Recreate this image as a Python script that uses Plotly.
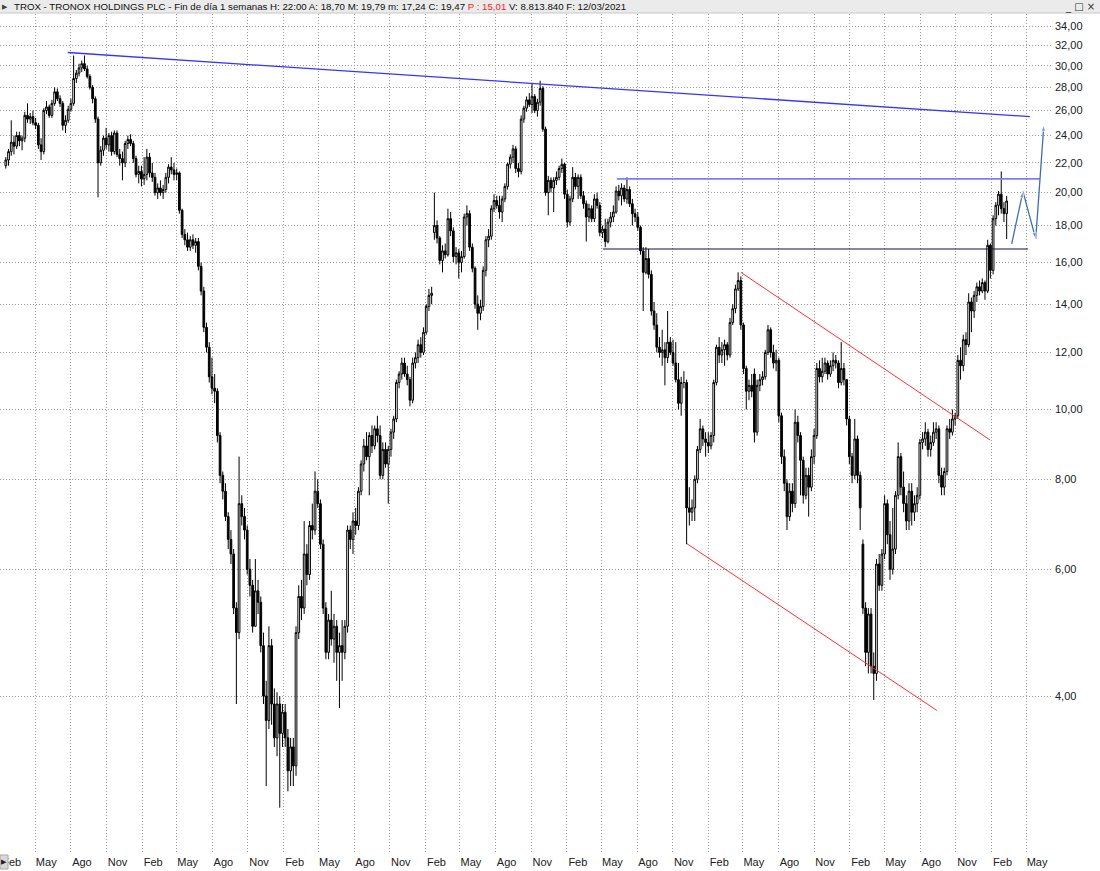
import pandas as pd
import plotly.graph_objects as go

# weekly candles, TROX, week ending 14/02/2014 ... 12/03/2021
start_week = "2014-02-14"

opens = [
    21.8, 22.2, 22.8, 23.5, 23.2, 24.0, 23.6, 23.8, 25.6, 25.3,
    25.5, 25.0, 24.8, 23.3, 22.8, 26.0, 26.3, 25.6, 26.6, 27.6,
    27.0, 26.6, 24.8, 25.2, 26.1, 26.6, 28.8, 29.3, 29.8, 30.2,
    29.7, 29.0, 28.0, 27.0, 25.3, 22.0, 22.9, 23.8, 23.3, 24.0,
    22.8, 24.2, 22.6, 22.3, 22.0, 23.4, 23.7, 23.4, 22.3, 21.2,
    21.4, 20.9, 21.2, 22.4, 21.3, 21.0, 20.0, 20.3, 20.0, 20.2,
    21.0, 21.7, 21.5, 21.2, 21.3, 18.9, 17.5, 17.2, 16.8, 17.2,
    16.9, 17.1, 15.8, 14.6, 13.0, 12.2, 11.1, 10.7, 10.6, 9.2,
    8.1, 7.7, 7.1, 6.6, 6.3, 5.3, 4.9, 7.4, 7.1, 6.8,
    6.0, 5.7, 5.0, 5.6, 5.4, 4.7, 4.0, 3.7, 4.7, 3.9,
    3.5, 3.9, 3.55, 3.8, 3.5, 3.15, 3.4, 3.2, 4.9, 5.5,
    5.3, 6.3, 5.9, 6.9, 6.8, 7.7, 7.4, 6.5, 5.3, 4.6,
    5.1, 4.8, 5.0, 4.6, 4.7, 4.6, 5.0, 6.8, 6.6, 7.0,
    6.9, 7.7, 8.4, 8.9, 8.6, 9.2, 8.9, 9.4, 9.2, 8.1,
    8.8, 8.4, 8.8, 9.3, 9.7, 10.9, 11.2, 11.6, 11.2, 11.0,
    10.3, 11.6, 11.8, 12.3, 12.0, 12.8, 13.9, 14.4, 17.6, 18.0,
    17.3, 16.1, 16.6, 16.4, 18.4, 17.7, 16.3, 16.5, 16.0, 16.3,
    18.5, 18.7, 16.8, 15.7, 14.0, 13.6, 13.9, 15.6, 17.2, 17.4,
    19.0, 19.5, 19.2, 18.8, 19.6, 20.4, 21.9, 22.4, 23.0, 21.6,
    21.4, 25.3, 26.2, 26.9, 26.5, 27.2, 26.0, 26.7, 27.9, 24.5,
    20.0, 20.8, 20.3, 20.8, 21.0, 21.6, 21.9, 19.9, 18.2, 19.6,
    21.0, 20.4, 21.0, 19.8, 19.3, 18.5, 19.0, 18.4, 19.6, 19.2,
    17.6, 17.8, 17.1, 18.2, 18.5, 18.8, 20.1, 19.8, 20.3, 19.6,
    20.2, 19.3, 18.7, 18.5, 17.9, 16.6, 15.5, 16.2, 15.4, 13.7,
    13.1, 12.2, 12.0, 12.1, 11.8, 12.4, 12.0, 11.6, 11.0, 10.2,
    10.9, 10.9, 7.3, 7.2, 7.3, 8.0, 8.8, 9.4, 9.1, 9.0,
    8.9, 9.2, 10.9, 12.2, 11.9, 12.1, 12.3, 11.9, 13.2, 13.8,
    14.7, 15.1, 13.1, 11.4, 10.6, 10.8, 11.2, 9.3, 10.8, 11.0,
    11.1, 12.0, 12.9, 12.0, 11.6, 11.7, 9.8, 8.6, 7.9, 7.1,
    7.7, 7.4, 9.6, 9.2, 8.5, 7.6, 8.1, 7.8, 8.6, 9.2,
    11.4, 11.1, 11.3, 11.6, 11.2, 11.5, 11.7, 11.6, 10.9, 11.4,
    11.0, 9.7, 8.6, 8.1, 9.1, 8.1, 6.5, 5.3, 4.6, 5.2,
    4.4, 4.3, 6.1, 5.7, 6.3, 7.4, 6.7, 6.0, 6.4, 7.6,
    8.6, 7.8, 7.4, 7.0, 7.7, 7.2, 7.4, 7.6, 9.0, 9.1,
    9.3, 8.8, 9.0, 9.3, 9.4, 8.1, 7.8, 8.2, 9.4, 9.3,
    9.7, 9.8, 11.7, 11.5, 12.5, 12.3, 14.1, 13.7, 14.4, 14.8,
    14.6, 15.0, 14.6, 16.9, 15.6, 18.4, 19.2, 19.9, 19.0, 18.70,
]
highs = [
    22.4, 23.0, 25.2, 24.0, 24.3, 24.3, 24.0, 25.9, 26.6, 25.8,
    26.0, 25.4, 25.0, 23.8, 26.2, 26.8, 26.5, 26.9, 28.0, 27.9,
    27.3, 26.8, 25.6, 26.4, 27.0, 31.0, 29.6, 30.2, 30.5, 31.0,
    30.0, 29.2, 28.2, 27.2, 25.5, 23.2, 24.0, 24.6, 24.2, 24.3,
    24.4, 24.4, 23.0, 22.8, 23.6, 24.0, 24.1, 23.6, 22.5, 21.8,
    21.8, 22.4, 23.0, 22.7, 22.0, 21.3, 20.6, 20.8, 20.5, 21.3,
    21.9, 22.4, 22.0, 21.6, 21.4, 19.0, 17.8, 17.6, 17.4, 17.5,
    17.3, 17.3, 16.0, 14.8, 13.2, 12.4, 11.8, 11.2, 10.7, 9.3,
    8.2, 7.9, 7.2, 6.8, 6.4, 5.4, 8.6, 7.6, 7.3, 6.9,
    6.2, 5.8, 6.2, 5.8, 5.5, 4.9, 4.2, 5.0, 4.8, 4.1,
    4.05, 4.0, 3.9, 3.9, 3.6, 3.5, 3.5, 5.0, 5.7, 5.8,
    7.0, 6.5, 7.0, 7.4, 8.2, 8.0, 7.5, 6.6, 5.4, 5.2,
    5.6, 5.2, 5.1, 4.9, 5.1, 5.1, 6.9, 6.9, 7.2, 7.3,
    7.8, 8.5, 9.1, 9.3, 9.3, 9.5, 9.5, 9.8, 9.5, 9.0,
    9.0, 8.9, 9.4, 9.8, 11.0, 11.3, 11.8, 11.8, 11.5, 11.1,
    11.8, 12.0, 12.5, 12.6, 13.0, 14.0, 14.7, 14.8, 20.0, 18.3,
    17.4, 16.9, 17.0, 19.0, 18.8, 17.9, 16.8, 16.7, 16.6, 18.7,
    19.2, 18.9, 17.0, 15.8, 14.4, 14.2, 15.8, 17.4, 17.8, 19.2,
    19.9, 19.8, 19.8, 19.8, 20.6, 22.0, 22.6, 23.3, 23.2, 22.0,
    25.6, 26.4, 27.2, 27.5, 28.4, 27.4, 27.0, 28.6, 28.1, 24.7,
    21.1, 21.0, 21.0, 21.4, 21.8, 22.3, 22.0, 20.2, 19.8, 21.7,
    21.3, 21.2, 21.2, 20.1, 19.5, 19.3, 19.2, 19.9, 20.0, 19.4,
    18.0, 18.4, 18.4, 18.8, 19.2, 20.4, 20.5, 20.6, 20.5, 21.0,
    20.4, 19.6, 19.0, 18.8, 18.0, 16.8, 16.8, 16.7, 15.6, 14.1,
    13.6, 12.6, 12.9, 12.4, 13.7, 12.6, 12.5, 12.4, 11.6, 11.1,
    11.3, 11.0, 7.8, 7.5, 8.1, 8.9, 9.7, 9.5, 9.3, 9.3,
    9.3, 11.0, 12.3, 12.6, 12.4, 12.5, 12.4, 13.4, 14.0, 14.9,
    15.5, 15.3, 13.2, 11.5, 11.0, 11.2, 11.4, 11.0, 11.2, 11.3,
    12.1, 13.1, 13.0, 12.3, 12.1, 11.8, 9.9, 8.8, 8.0, 7.9,
    7.9, 10.0, 9.8, 9.3, 8.6, 8.3, 8.3, 8.8, 9.4, 11.6,
    11.7, 11.8, 11.8, 11.7, 11.7, 12.0, 11.9, 11.7, 12.4, 11.6,
    11.0, 9.8, 8.7, 9.7, 9.2, 8.2, 6.6, 5.4, 5.3, 5.3,
    4.6, 6.2, 6.3, 6.4, 7.6, 7.5, 7.0, 7.3, 7.7, 9.0,
    8.7, 8.2, 7.6, 7.9, 7.9, 7.6, 7.8, 9.1, 9.3, 9.6,
    9.4, 9.2, 9.6, 9.6, 9.5, 8.3, 8.3, 9.5, 9.7, 10.0,
    9.9, 11.9, 12.2, 12.7, 12.8, 14.5, 14.3, 14.6, 15.0, 15.1,
    15.2, 15.1, 17.2, 17.0, 18.6, 19.4, 20.1, 21.4, 19.4, 19.79,
]
lows = [
    21.6, 21.8, 22.5, 22.6, 23.0, 23.2, 22.9, 23.5, 25.0, 24.9,
    24.8, 24.5, 23.0, 22.2, 22.6, 25.7, 25.4, 25.4, 26.4, 26.8,
    26.3, 24.4, 24.2, 25.0, 25.9, 26.4, 28.4, 29.0, 29.4, 29.5,
    28.8, 27.8, 26.6, 25.0, 19.7, 21.8, 22.5, 23.0, 22.8, 22.5,
    22.6, 22.4, 21.8, 20.8, 21.7, 23.0, 23.2, 22.0, 21.0, 20.6,
    20.4, 20.5, 20.8, 21.0, 20.7, 19.8, 19.6, 19.8, 19.6, 20.0,
    20.6, 21.2, 20.8, 20.8, 18.7, 17.3, 16.9, 16.6, 16.6, 16.7,
    16.5, 15.6, 14.4, 12.8, 12.0, 10.9, 10.5, 10.2, 9.0, 7.9,
    7.5, 7.0, 6.4, 6.1, 5.2, 3.9, 4.8, 6.9, 6.6, 5.9,
    5.5, 4.9, 5.0, 5.2, 4.6, 3.9, 3.0, 3.6, 3.65, 3.4,
    3.3, 2.8, 3.4, 3.4, 2.95, 3.0, 3.0, 3.1, 4.8, 5.1,
    5.2, 5.7, 5.8, 6.6, 6.7, 7.3, 6.4, 5.2, 4.5, 4.5,
    4.7, 4.45, 4.2, 3.85, 4.2, 4.5, 4.9, 6.4, 6.3, 6.7,
    6.8, 7.6, 8.2, 8.5, 7.6, 8.7, 8.8, 9.0, 8.0, 8.0,
    8.3, 7.4, 8.6, 9.1, 9.6, 10.7, 11.0, 11.1, 10.8, 10.1,
    10.2, 11.4, 11.6, 11.8, 11.9, 12.7, 13.7, 14.0, 17.2, 17.0,
    15.9, 15.5, 16.2, 16.3, 17.4, 16.0, 15.9, 15.2, 15.5, 16.2,
    18.0, 16.6, 15.5, 13.8, 12.9, 13.3, 13.7, 15.3, 16.8, 17.2,
    18.8, 19.0, 18.4, 18.2, 19.4, 20.2, 21.6, 22.0, 21.3, 21.0,
    21.2, 25.0, 25.9, 26.3, 25.8, 25.8, 25.5, 26.4, 24.3, 19.8,
    18.6, 20.0, 18.8, 20.5, 20.8, 21.3, 19.6, 17.9, 18.0, 19.4,
    20.2, 19.6, 19.6, 19.0, 17.1, 18.2, 18.2, 18.2, 19.0, 17.4,
    17.3, 16.8, 17.0, 17.9, 18.2, 18.7, 19.5, 19.2, 19.4, 19.3,
    19.1, 18.0, 18.2, 17.7, 16.4, 13.7, 15.4, 15.2, 13.5, 12.9,
    12.0, 11.8, 11.5, 10.8, 11.6, 11.9, 11.5, 10.9, 10.0, 9.8,
    10.7, 6.5, 6.9, 7.0, 7.0, 7.9, 8.7, 8.9, 8.6, 8.7,
    8.8, 9.0, 10.8, 11.6, 11.6, 11.5, 11.7, 11.8, 13.1, 13.6,
    14.6, 12.9, 11.2, 10.0, 10.3, 10.4, 9.0, 9.2, 10.6, 10.8,
    11.0, 11.9, 11.8, 11.4, 11.3, 9.6, 8.4, 7.7, 6.8, 7.0,
    7.2, 7.3, 9.0, 7.6, 7.4, 7.5, 7.1, 7.7, 8.4, 9.1,
    10.9, 10.9, 11.2, 11.0, 11.1, 11.3, 11.4, 10.7, 10.8, 10.8,
    9.5, 8.4, 7.9, 8.0, 7.9, 6.8, 5.2, 4.4, 4.3, 4.3,
    3.95, 4.2, 5.6, 5.6, 6.2, 6.5, 5.8, 5.9, 6.3, 7.5,
    7.6, 7.2, 6.8, 6.8, 6.9, 7.0, 7.2, 7.5, 8.8, 8.9,
    8.6, 8.6, 8.9, 9.1, 7.9, 7.6, 7.6, 8.1, 9.1, 9.2,
    9.5, 9.7, 11.0, 11.3, 11.9, 12.2, 12.8, 13.4, 14.1, 14.4,
    14.5, 14.2, 14.5, 15.2, 15.4, 18.0, 18.6, 18.7, 18.2, 17.24,
]
closes = [
    22.2, 22.8, 23.5, 23.2, 24.0, 23.6, 23.8, 25.6, 25.3, 25.5,
    25.0, 24.8, 23.3, 22.8, 26.0, 26.3, 25.6, 26.6, 27.6, 27.0,
    26.6, 24.8, 25.2, 26.1, 26.6, 28.8, 29.3, 29.8, 30.2, 29.7,
    29.0, 28.0, 27.0, 25.3, 22.0, 22.9, 23.8, 23.3, 24.0, 22.8,
    24.2, 22.6, 22.3, 22.0, 23.4, 23.7, 23.4, 22.3, 21.2, 21.4,
    20.9, 21.2, 22.4, 21.3, 21.0, 20.0, 20.3, 20.0, 20.2, 21.0,
    21.7, 21.5, 21.2, 21.3, 18.9, 17.5, 17.2, 16.8, 17.2, 16.9,
    17.1, 15.8, 14.6, 13.0, 12.2, 11.1, 10.7, 10.6, 9.2, 8.1,
    7.7, 7.1, 6.6, 6.3, 5.3, 4.9, 7.4, 7.1, 6.8, 6.0,
    5.7, 5.0, 5.6, 5.4, 4.7, 4.0, 3.7, 4.7, 3.9, 3.5,
    3.9, 3.55, 3.8, 3.5, 3.15, 3.4, 3.2, 4.9, 5.5, 5.3,
    6.3, 5.9, 6.9, 6.8, 7.7, 7.4, 6.5, 5.3, 4.6, 5.1,
    4.8, 5.0, 4.6, 4.7, 4.6, 5.0, 6.8, 6.6, 7.0, 6.9,
    7.7, 8.4, 8.9, 8.6, 9.2, 8.9, 9.4, 9.2, 8.1, 8.8,
    8.4, 8.8, 9.3, 9.7, 10.9, 11.2, 11.6, 11.2, 11.0, 10.3,
    11.6, 11.8, 12.3, 12.0, 12.8, 13.9, 14.4, 14.5, 18.0, 17.3,
    16.1, 16.6, 16.4, 18.4, 17.7, 16.3, 16.5, 16.0, 16.3, 18.5,
    18.7, 16.8, 15.7, 14.0, 13.6, 13.9, 15.6, 17.2, 17.4, 19.0,
    19.5, 19.2, 18.8, 19.6, 20.4, 21.9, 22.4, 23.0, 21.6, 21.4,
    25.3, 26.2, 26.9, 26.5, 27.2, 26.0, 26.7, 27.9, 24.5, 20.0,
    20.8, 20.3, 20.8, 21.0, 21.6, 21.9, 19.9, 18.2, 19.6, 21.0,
    20.4, 21.0, 19.8, 19.3, 18.5, 19.0, 18.4, 19.6, 19.2, 17.6,
    17.8, 17.1, 18.2, 18.5, 18.8, 20.1, 19.8, 20.3, 19.6, 20.2,
    19.3, 18.7, 18.5, 17.9, 16.6, 15.5, 16.2, 15.4, 13.7, 13.1,
    12.2, 12.0, 12.1, 11.8, 12.4, 12.0, 11.6, 11.0, 10.2, 10.9,
    10.9, 7.3, 7.2, 7.3, 8.0, 8.8, 9.4, 9.1, 9.0, 8.9,
    9.2, 10.9, 12.2, 11.9, 12.1, 12.3, 11.9, 13.2, 13.8, 14.7,
    15.1, 13.1, 11.4, 10.6, 10.8, 10.6, 9.3, 10.8, 11.0, 11.1,
    12.0, 12.9, 12.0, 11.6, 11.7, 9.8, 8.6, 7.9, 7.1, 7.7,
    7.4, 9.6, 9.2, 8.5, 7.6, 8.1, 7.8, 8.6, 9.2, 11.4,
    11.1, 11.3, 11.6, 11.2, 11.5, 11.7, 11.6, 10.9, 11.4, 11.0,
    9.7, 8.6, 8.1, 9.1, 8.1, 7.3, 5.3, 4.6, 5.2, 4.4,
    4.3, 6.1, 5.7, 6.3, 7.4, 6.7, 6.0, 6.4, 7.6, 8.6,
    7.8, 7.4, 7.0, 7.7, 7.2, 7.4, 7.6, 9.0, 9.1, 9.3,
    8.8, 9.0, 9.3, 9.4, 8.1, 7.8, 8.2, 9.4, 9.3, 9.7,
    9.8, 11.7, 11.5, 12.5, 12.3, 14.1, 13.7, 14.4, 14.8, 14.6,
    15.0, 14.6, 16.9, 15.6, 18.4, 19.2, 19.9, 19.0, 18.7, 19.47,
]

# drawn studies (date, price)
trend_top = (["2014-07-24", "2021-05-11"], [31.3, 25.5])
resist_hi = (["2018-06-10", "2021-06-06"], [20.9, 20.9])
support = (["2018-05-05", "2021-05-06"], [16.7, 16.7])
channel_up = (["2019-04-26", "2021-01-28"], [15.5, 9.07])
channel_dn = (["2018-12-08", "2020-09-13"], [6.51, 3.82])
projection = (["2021-03-25", "2021-04-23", "2021-05-26", "2021-06-16"], [16.98, 20.08, 17.25, 24.85])

price_ticks = [4, 6, 8, 10, 12, 14, 16, 18, 20, 22, 24, 26, 28, 30, 32, 34]
price_labels = ["4,00", "6,00", "8,00", "10,00", "12,00", "14,00", "16,00", "18,00",
                "20,00", "22,00", "24,00", "26,00", "28,00", "30,00", "32,00", "34,00"]
month_names = {2: "Feb", 5: "May", 8: "Ago", 11: "Nov"}

weeks = pd.date_range(start_week, periods=len(closes), freq="7D")
month_ticks = pd.date_range("2014-02-01", "2021-05-01", freq="3MS")

FONT = "Liberation Sans, Arial, sans-serif"
W, H = 1100, 871
PL, PR, PT, PB = 0, 1052, 14, 852   # plot area in pixels


def px(x):
    return (x - PL) / (PR - PL)


def py(y):
    return (PB - y) / (PB - PT)


fig = go.Figure()

fig.add_trace(go.Candlestick(
    x=weeks, open=opens, high=highs, low=lows, close=closes,
    increasing=dict(line=dict(color="black", width=1), fillcolor="white"),
    decreasing=dict(line=dict(color="black", width=1), fillcolor="black"),
    whiskerwidth=0, hoverinfo="skip", showlegend=False,
))

def seg(pts, color, width=1):
    fig.add_trace(go.Scatter(x=pts[0], y=pts[1], mode="lines",
                             line=dict(color=color, width=width),
                             hoverinfo="skip", showlegend=False))

seg(trend_top, "#3434ff", 1.3)
seg(resist_hi, "#7c7cf8", 1.6)
seg(support, "#10104a", 1.1)
seg(channel_up, "#ff3030", 1)
seg(channel_dn, "#ff3030", 1)

fig.add_trace(go.Scatter(
    x=projection[0], y=projection[1], mode="lines+markers",
    line=dict(color="#3d6fb0", width=1.3),
    marker=dict(symbol="arrow", size=[0, 7, 7, 7], angleref="previous", color="#3d6fb0"),
    hoverinfo="skip", showlegend=False,
))

fig.update_xaxes(
    type="date",
    range=["2014-01-30", "2021-07-07"],
    tickvals=list(month_ticks),
    ticktext=[month_names[d.month] for d in month_ticks],
    ticklabelshift=11, ticklabelstandoff=2,
    showgrid=True, gridcolor="#9a9a9a", griddash="1px,2px", gridwidth=1,
    tickfont=dict(family=FONT, size=11, color="#202020"),
    ticks="", showline=False, zeroline=False,
    rangeslider_visible=False, fixedrange=True,
)
fig.update_yaxes(
    type="log", side="right",
    range=[0.3856, 1.549],
    tickvals=price_ticks, ticktext=price_labels,
    showgrid=True, gridcolor="#9a9a9a", griddash="1px,2px", gridwidth=1,
    tickfont=dict(family=FONT, size=11, color="#202020"),
    ticks="", ticklabelstandoff=2,
    showline=False, zeroline=False, fixedrange=True,
)

shapes = [
    # header bar
    dict(type="rect", xref="paper", yref="paper", x0=px(0), x1=px(W), y0=py(13), y1=py(0),
         fillcolor="#ebebeb", line=dict(width=0), layer="above"),
    dict(type="line", xref="paper", yref="paper", x0=px(0), x1=px(W), y0=py(13), y1=py(13),
         line=dict(color="#c8c8c8", width=1), layer="above"),
    # little box at the bottom-left corner
    dict(type="rect", xref="paper", yref="paper", x0=px(0), x1=px(8), y0=py(869), y1=py(855),
         fillcolor="#d8d8d8", line=dict(color="#a8a8a8", width=1), layer="above"),
]

annotations = [
    dict(xref="paper", yref="paper", x=px(12), y=py(6.5), xanchor="left", yanchor="middle",
         showarrow=False, font=dict(family=FONT, size=9.7, color="#101010"),
         text="TROX - TRONOX HOLDINGS PLC - Fin de día 1 semanas H: 22:00 A: 18,70 "
              "M: 19,79 m: 17,24 C: 19,47 <span style='color:#ff2020'>P : 15,01</span> "
              "V: 8.813.840 F: 12/03/2021"),
    dict(xref="paper", yref="paper", x=px(5), y=py(6.5), xanchor="center", yanchor="middle",
         showarrow=False, font=dict(family=FONT, size=7, color="#404040"), text="▶"),
    dict(xref="paper", yref="paper", x=px(4), y=py(862), xanchor="center", yanchor="middle",
         showarrow=False, font=dict(family=FONT, size=7, color="#202020"), text="▶"),
    dict(xref="paper", yref="paper", x=px(1097), y=py(6.5), xanchor="right", yanchor="middle",
         showarrow=False, font=dict(family="DejaVu Sans", size=10, color="#303030"), text="_ □ ×"),
]

fig.update_layout(
    width=W, height=H,
    margin=dict(l=PL, r=W - PR, t=PT, b=H - PB, pad=0),
    paper_bgcolor="white", plot_bgcolor="white",
    showlegend=False, boxgap=0.1,
    shapes=shapes, annotations=annotations,
    font=dict(family=FONT, size=11),
)

# the page body has an 8px default margin; drop it so the figure sits at 0,0
fig.write_html("out.html", config={"displayModeBar": False},
               post_script="document.body.style.margin='0px';")
